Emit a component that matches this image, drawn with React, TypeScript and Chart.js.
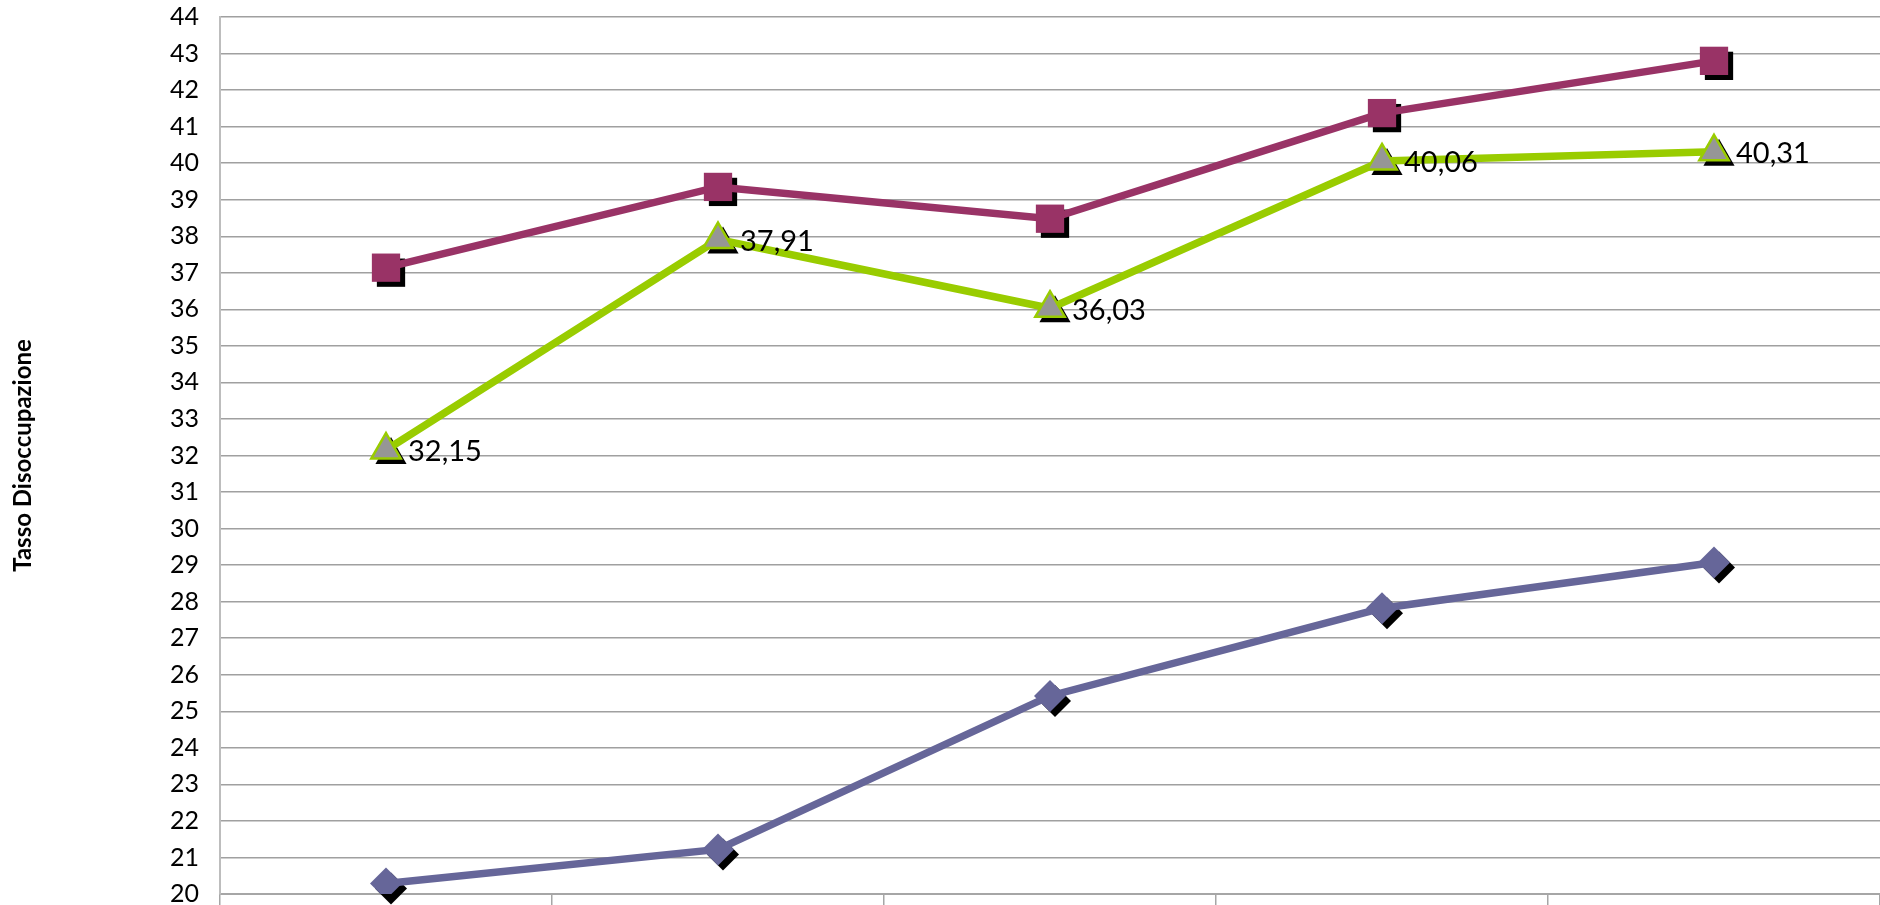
import React, { useEffect, useRef } from "react";
import { Chart, registerables } from "chart.js";

Chart.register(...registerables);

const categories = ["1", "2", "3", "4", "5"];
const seriesDiamond = [20.29, 21.22, 25.42, 27.82, 29.07];
const seriesSquare = [37.14, 39.35, 38.48, 41.37, 42.8];
const seriesTriangle = [32.15, 37.91, 36.03, 40.06, 40.31];
const yMin = 20;
const yMax = 44;
const yTitle = "Tasso Disoccupazione";

const shadowPlugin = {
  id: "markerShadow",
  beforeDatasetDraw(chart: any, args: any) {
    const ds = chart.data.datasets[args.index];
    const meta = args.meta;
    const ctx = chart.ctx;
    const off = 5;
    ctx.save();
    ctx.fillStyle = "#000000";
    for (const el of meta.data) {
      const x = el.x + off;
      const y = el.y + off;
      const r = ds.pointRadius;
      ctx.beginPath();
      if (ds.pointStyle === "rect") {
        const s = Math.SQRT1_2 * r;
        ctx.rect(x - s, y - s, 2 * s, 2 * s);
      } else if (ds.pointStyle === "rectRot") {
        ctx.moveTo(x, y - r);
        ctx.lineTo(x + r, y);
        ctx.lineTo(x, y + r);
        ctx.lineTo(x - r, y);
        ctx.closePath();
      } else if (ds.pointStyle === "triangle") {
        const rr = r + 1;
        ctx.moveTo(x, y - rr);
        ctx.lineTo(x + rr * Math.cos(Math.PI / 6), y + rr * 0.5);
        ctx.lineTo(x - rr * Math.cos(Math.PI / 6), y + rr * 0.5);
        ctx.closePath();
      }
      ctx.fill();
    }
    ctx.restore();
  },
};

const labelPlugin = {
  id: "valueLabels",
  afterDatasetsDraw(chart: any) {
    const ctx = chart.ctx;
    chart.data.datasets.forEach((ds: any, i: number) => {
      if (!ds.showLabels) return;
      const meta = chart.getDatasetMeta(i);
      ctx.save();
      ctx.font = "29px Lato";
      ctx.fillStyle = "#000000";
      ctx.textAlign = "left";
      ctx.textBaseline = "middle";
      meta.data.forEach((el: any, j: number) => {
        const txt = Number(ds.data[j]).toFixed(2).replace(".", ",");
        ctx.fillText(txt, el.x + 22, el.y + 2);
      });
      ctx.restore();
    });
  },
};

export default function App() {
  const ref = useRef<HTMLCanvasElement | null>(null);
  useEffect(() => {
    document.body.style.margin = "0";
    document.documentElement.style.overflow = "hidden";
    document.body.style.overflow = "hidden";
    const chart = new Chart(ref.current as HTMLCanvasElement, {
      type: "line",
      data: {
        labels: categories,
        datasets: [
          {
            label: "Triangle",
            data: seriesTriangle,
            borderColor: "#99CC00",
            borderWidth: 7.5,
            pointStyle: "triangle",
            pointRadius: 17,
            pointBackgroundColor: "#969696",
            pointBorderColor: "#99CC00",
            pointBorderWidth: 2.5,
            showLabels: true,
          } as any,
          {
            label: "Square",
            data: seriesSquare,
            borderColor: "#993366",
            borderWidth: 7.5,
            pointStyle: "rect",
            pointRadius: 20,
            pointBackgroundColor: "#993366",
            pointBorderColor: "#993366",
            pointBorderWidth: 0,
          } as any,
          {
            label: "Diamond",
            data: seriesDiamond,
            borderColor: "#666699",
            borderWidth: 7.5,
            pointStyle: "rectRot",
            pointRadius: 16,
            pointBackgroundColor: "#666699",
            pointBorderColor: "#666699",
            pointBorderWidth: 0,
          } as any,
        ],
      },
      options: {
        animation: false,
        responsive: false,
        devicePixelRatio: 1,
        layout: { autoPadding: false, padding: { top: 17, right: 0, bottom: 0, left: 0 } },
        plugins: {
          legend: { display: false },
          tooltip: { enabled: false },
        },
        scales: {
          x: {
            type: "category",
            offset: true,
            ticks: { display: false, padding: 0 },
            grid: {
              offset: true,
              drawOnChartArea: false,
              drawTicks: true,
              tickLength: 11,
              color: "#A6A6A6",
              lineWidth: 1.5,
            },
            border: { display: true, color: "#A6A6A6", width: 2 },
            afterFit(scale: any) {
              scale.height = 11;
            },
          },
          y: {
            min: yMin,
            max: yMax,
            ticks: {
              stepSize: 1,
              padding: 0,
              color: "#000000",
              font: { family: "Lato", size: 25, lineHeight: 0.85 },
            },
            grid: {
              drawTicks: true,
              tickLength: 21,
              tickColor: "rgba(0,0,0,0)",
              color: "#A0A0A0",
              lineWidth: 1.5,
            },
            border: { display: true, color: "#BDBDBD", width: 2 },
            title: {
              display: true,
              text: yTitle,
              color: "#000000",
              font: { family: "Lato", size: 24, weight: "bold", lineHeight: 1.2 },
              padding: { top: 9, bottom: 0 },
            },
            afterFit(scale: any) {
              scale.width = 220;
            },
          },
        },
      },
      plugins: [shadowPlugin, labelPlugin],
    } as any);
    return () => chart.destroy();
  }, []);
  return (
    <div style={{ width: "1880px", height: "905px", overflow: "hidden", background: "#ffffff" }}>
      <canvas ref={ref} width={1880} height={905} style={{ display: "block", width: "1880px", height: "905px" }} />
    </div>
  );
}
